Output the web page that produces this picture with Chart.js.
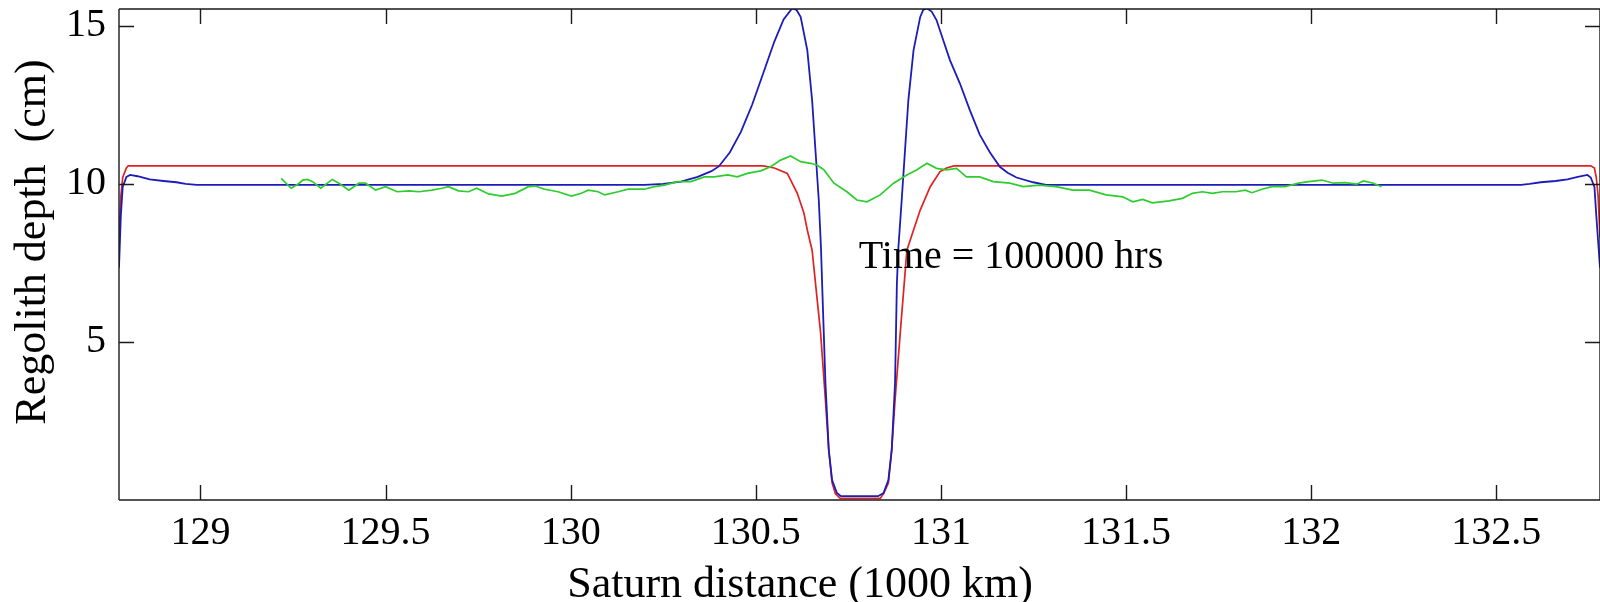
<!DOCTYPE html>
<html>
<head>
<meta charset="utf-8">
<script src="https://cdn.jsdelivr.net/npm/chart.js@4.4.1/dist/chart.umd.min.js"></script>
<style>
html,body{margin:0;padding:0;background:#fff;overflow:hidden}
#wrap{width:1600px;height:602px;position:relative}
</style>
</head>
<body>
<div id="wrap"><canvas id="c" width="1600" height="602"></canvas></div>
<script>
// ---- data ----
const xTicks = [129, 129.5, 130, 130.5, 131, 131.5, 132, 132.5];
const yTicks = [5, 10, 15];

const redX = [128.78, 128.785, 128.79, 128.80, 128.805, 130.52, 130.55, 130.585, 130.612, 130.630, 130.639, 130.652, 130.675, 130.688, 130.697, 130.706, 130.715, 130.728, 130.836, 130.845, 130.858, 130.867, 130.876, 130.89, 130.908, 130.926, 130.944, 130.971, 130.997, 131.015, 131.035, 132.755, 132.765, 132.77, 132.775, 132.78];
const redY = [8.3, 9.6, 10.2, 10.5, 10.57, 10.57, 10.5, 10.33, 9.70, 9.07, 8.54, 7.9, 5.28, 3.16, 1.58, 0.54, 0.2, 0.05, 0.05, 0.2, 0.54, 1.58, 3.16, 5.28, 7.9, 8.54, 9.17, 9.91, 10.38, 10.5, 10.57, 10.57, 10.5, 10.2, 9.6, 8.3];

const blueX = [128.78, 128.785, 128.79, 128.80, 128.81, 128.83, 128.863, 128.90, 128.935, 128.96, 128.99, 130.20, 130.25, 130.298, 130.343, 130.38, 130.40, 130.43, 130.46, 130.49, 130.52, 130.55, 130.575, 130.598, 130.61, 130.621, 130.639, 130.652, 130.661, 130.670, 130.676, 130.679, 130.688, 130.697, 130.706, 130.719, 130.73, 130.83, 130.845, 130.858, 130.867, 130.876, 130.881, 130.885, 130.894, 130.903, 130.912, 130.926, 130.944, 130.952, 130.962, 130.975, 130.988, 131.006, 131.024, 131.051, 131.078, 131.105, 131.132, 131.159, 131.18, 131.204, 131.249, 131.284, 132.567, 132.59, 132.62, 132.66, 132.692, 132.72, 132.746, 132.755, 132.765, 132.77, 132.78];
const blueY = [7.35, 9.0, 9.9, 10.22, 10.28, 10.24, 10.14, 10.09, 10.05, 10.0, 9.97, 9.97, 10.0, 10.07, 10.22, 10.4, 10.55, 11.0, 11.65, 12.5, 13.5, 14.5, 15.2, 15.55, 15.5, 15.28, 14.23, 12.65, 11.07, 9.49, 7.97, 6.86, 3.7, 1.58, 0.63, 0.22, 0.12, 0.12, 0.22, 0.63, 1.58, 3.7, 6.86, 7.97, 9.49, 11.07, 12.65, 14.23, 15.28, 15.5, 15.55, 15.45, 15.18, 14.55, 13.92, 13.18, 12.33, 11.55, 11.0, 10.54, 10.35, 10.2, 10.05, 9.97, 9.97, 10.0, 10.05, 10.09, 10.14, 10.22, 10.28, 10.2, 9.9, 9.0, 7.35];

const greenX = [129.218, 129.245, 129.267, 129.276, 129.289, 129.303, 129.325, 129.356, 129.374, 129.401, 129.428, 129.446, 129.473, 129.500, 129.531, 129.563, 129.590, 129.625, 129.652, 129.670, 129.697, 129.724, 129.746, 129.778, 129.814, 129.850, 129.886, 129.904, 129.930, 129.966, 130.002, 130.029, 130.047, 130.074, 130.092, 130.128, 130.155, 130.199, 130.226, 130.253, 130.289, 130.325, 130.361, 130.388, 130.424, 130.450, 130.477, 130.513, 130.540, 130.567, 130.594, 130.621, 130.648, 130.666, 130.684, 130.711, 130.746, 130.773, 130.800, 130.836, 130.872, 130.908, 130.934, 130.962, 130.988, 131.015, 131.042, 131.069, 131.105, 131.141, 131.186, 131.222, 131.266, 131.311, 131.356, 131.401, 131.446, 131.491, 131.518, 131.545, 131.571, 131.616, 131.652, 131.679, 131.706, 131.733, 131.760, 131.796, 131.822, 131.840, 131.867, 131.894, 131.930, 131.966, 131.993, 132.029, 132.060, 132.091, 132.123, 132.141, 132.168, 132.19];
const greenY = [10.17, 9.86, 10.02, 10.12, 10.14, 10.07, 9.86, 10.14, 10.02, 9.80, 10.02, 10.02, 9.80, 9.91, 9.75, 9.78, 9.75, 9.80, 9.86, 9.91, 9.78, 9.75, 9.86, 9.68, 9.61, 9.70, 9.91, 9.93, 9.83, 9.75, 9.61, 9.70, 9.80, 9.75, 9.65, 9.75, 9.83, 9.83, 9.91, 9.96, 10.07, 10.07, 10.22, 10.22, 10.28, 10.22, 10.33, 10.41, 10.54, 10.75, 10.88, 10.70, 10.65, 10.59, 10.44, 10.02, 9.75, 9.49, 9.43, 9.65, 10.02, 10.28, 10.44, 10.65, 10.49, 10.44, 10.49, 10.22, 10.22, 10.07, 10.02, 9.91, 9.96, 9.91, 9.80, 9.80, 9.65, 9.59, 9.43, 9.51, 9.40, 9.46, 9.54, 9.70, 9.75, 9.70, 9.75, 9.75, 9.80, 9.72, 9.83, 9.91, 9.91, 10.02, 10.07, 10.12, 10.02, 10.04, 9.99, 10.09, 10.02, 9.91];

const xTitle = 'Saturn distance (1000 km)';
const yTitle = 'Regolith depth  (cm)';
const noteText = 'Time = 100000 hrs';
const noteAt = [130.778, 7.34];

// ---- chart ----
const FONT = "'Liberation Serif', 'Times New Roman', serif";
const pts = (xs, ys) => xs.map((x, i) => ({x: x, y: ys[i]}));

const framePlugin = {
  id: 'frame',
  afterDatasetsDraw(chart) {
    const {ctx, chartArea: a, scales} = chart;
    const xs = scales.x, ys = scales.y;
    const tl = 15;
    ctx.save();
    ctx.strokeStyle = '#1a1a1a';
    ctx.lineWidth = 1.4;
    ctx.beginPath();
    ctx.moveTo(a.left, a.top); ctx.lineTo(a.right, a.top);
    ctx.moveTo(a.left, a.bottom); ctx.lineTo(a.right, a.bottom);
    ctx.moveTo(a.left, a.top); ctx.lineTo(a.left, a.bottom);
    ctx.moveTo(a.right, a.top); ctx.lineTo(a.right, a.bottom);
    xs.ticks.forEach(t => {
      const p = Math.round(xs.getPixelForValue(t.value)) + 0.5;
      ctx.moveTo(p, a.bottom); ctx.lineTo(p, a.bottom - tl);
      ctx.moveTo(p, a.top); ctx.lineTo(p, a.top + tl);
    });
    ys.ticks.forEach(t => {
      const p = Math.round(ys.getPixelForValue(t.value)) + 0.5;
      ctx.moveTo(a.left, p); ctx.lineTo(a.left + tl, p);
      ctx.moveTo(a.right, p); ctx.lineTo(a.right - tl, p);
    });
    ctx.stroke();
    ctx.fillStyle = '#000';
    // annotation
    ctx.font = '40px ' + FONT;
    ctx.textAlign = 'left';
    ctx.textBaseline = 'alphabetic';
    ctx.fillText(noteText, xs.getPixelForValue(noteAt[0]), ys.getPixelForValue(noteAt[1]));
    // axis titles
    ctx.font = '44px ' + FONT;
    ctx.textAlign = 'center';
    ctx.textBaseline = 'middle';
    ctx.fillText(xTitle, 800, 585);
    ctx.translate(33, 242);
    ctx.rotate(-Math.PI / 2);
    ctx.fillText(yTitle, 0, 0);
    ctx.restore();
  }
};

new Chart(document.getElementById('c'), {
  type: 'line',
  data: {
    datasets: [
      {label: 'green', data: pts(greenX, greenY), borderColor: 'rgb(45,205,45)', borderWidth: 1.7},
      {label: 'blue', data: pts(blueX, blueY), borderColor: 'rgb(28,28,185)', borderWidth: 1.8},
      {label: 'red', data: pts(redX, redY), borderColor: 'rgb(222,35,35)', borderWidth: 1.7}
    ]
  },
  options: {
    responsive: false,
    animation: false,
    elements: {point: {radius: 0}, line: {tension: 0}},
    layout: {padding: {top: 9, right: -6, left: 0, bottom: 0}},
    plugins: {legend: {display: false}, tooltip: {enabled: false}},
    scales: {
      x: {
        type: 'linear', min: 128.78, max: 132.78,
        afterBuildTicks: s => { s.ticks = xTicks.map(v => ({value: v})); },
        afterFit: s => { s.height = 102; s.paddingLeft = 0; s.paddingRight = 0; },
        ticks: {font: {family: FONT, size: 40}, color: '#000', padding: 9, maxRotation: 0, autoSkip: false, callback: v => String(v)},
        grid: {display: false, drawTicks: false},
        border: {display: false},
        title: {display: false}
      },
      y: {
        type: 'linear', min: 0, max: 15.53,
        afterBuildTicks: s => { s.ticks = yTicks.map(v => ({value: v})); },
        afterFit: s => { s.width = 119; s.paddingTop = 0; s.paddingBottom = 0; },
        ticks: {font: {family: FONT, size: 40}, color: '#000', padding: 13, autoSkip: false, callback: v => String(v)},
        grid: {display: false, drawTicks: false},
        border: {display: false},
        title: {display: false}
      }
    }
  },
  plugins: [framePlugin]
});
</script>
</body>
</html>
